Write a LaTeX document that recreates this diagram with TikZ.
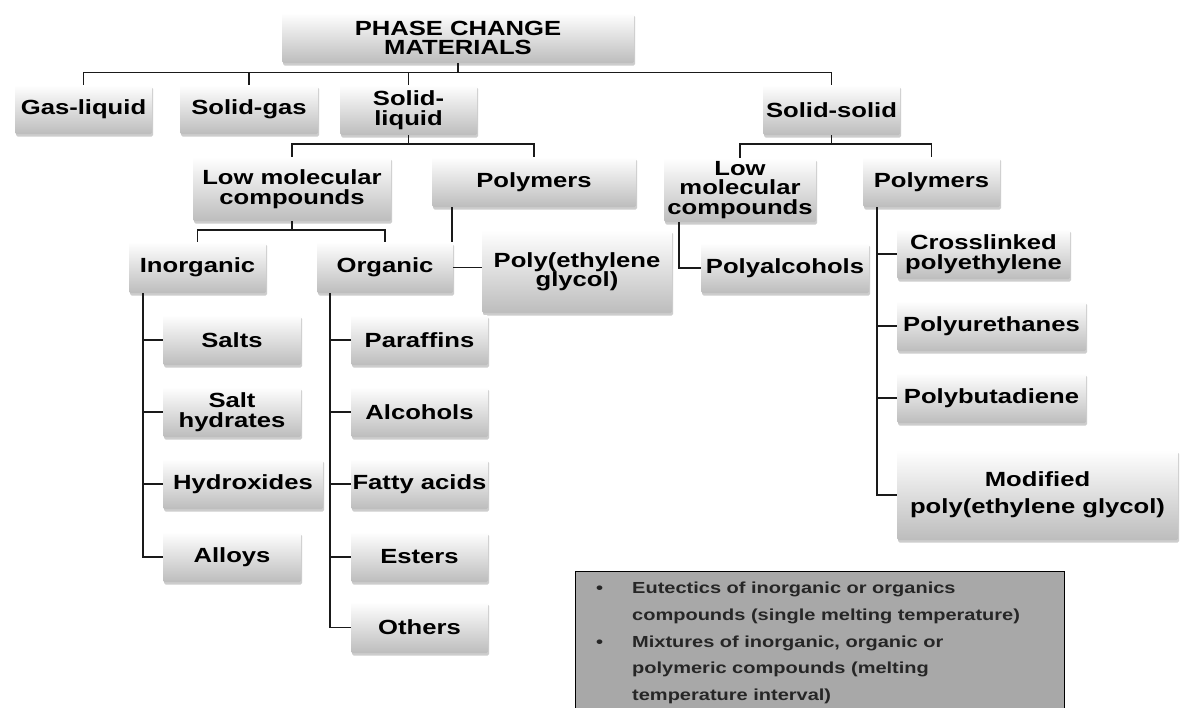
\documentclass[tikz,border=0pt]{standalone}
\usepackage{fontspec}
\setmainfont{Liberation Sans}[FakeStretch=1.25]
\usetikzlibrary{shadows}
\definecolor{linec}{HTML}{1A1A1A}
\definecolor{legfill}{HTML}{A8A8A8}
\begin{document}
\begin{tikzpicture}[x=1pt,y=-1pt,
  box/.style={rectangle, rounded corners=1.5pt, top color=white, bottom color=black!26,
    draw=none, inner sep=0pt, align=center,
    font=\fontsize{20.5}{19.5}\selectfont\bfseries, text=black,
    drop shadow={shadow xshift=1.2pt, shadow yshift=-2.5pt, opacity=0.28, fill=black!70}},
  conn/.style={draw=linec, line width=1.9pt},
  legtext/.style={font=\fontsize{16}{16}\selectfont\bfseries, text=black!85, inner sep=0pt, anchor=base west},
]
\useasboundingbox (0,0) rectangle (1181,707);
\fill[white] (0,0) rectangle (1181,707);

% level 0
\node[box, minimum width=352pt, minimum height=50pt] (pcm) at (458,38) {PHASE CHANGE\\MATERIALS};
% level 1
\node[box, minimum width=137pt, minimum height=49pt] (gl) at (83.5,109.5) {Gas-liquid};
\node[box, minimum width=138pt, minimum height=49pt] (sg) at (249,109.5) {Solid-gas};
\node[box, minimum width=137pt, minimum height=50pt] (sl) at (408.5,110) {Solid-\\liquid};
\node[box, minimum width=137pt, minimum height=50pt] (ss) at (831.5,110) {Solid-solid};
% level 2
\node[box, minimum width=198pt, minimum height=64pt] (lm) at (292,189) {Low molecular\\compounds};
\node[box, minimum width=204pt, minimum height=50pt] (poly) at (534,182) {Polymers};
\node[box, minimum width=152pt, minimum height=64pt] (lmb) at (740,190) {Low\\molecular\\compounds};
\node[box, minimum width=137pt, minimum height=50pt] (polyb) at (931.5,182) {Polymers};
% level 3
\node[box, minimum width=137pt, minimum height=51pt] (inorg) at (197.5,267.5) {Inorganic};
\node[box, minimum width=136pt, minimum height=51pt] (org) at (385,267.5) {Organic};
\node[box, minimum width=190pt, minimum height=83pt] (peg) at (577,271.5) {Poly(ethylene\\glycol)};
\node[box, minimum width=168pt, minimum height=50pt] (pa) at (785,268) {Polyalcohols};
% right column
\node[box, minimum width=173pt, minimum height=50pt] (cl) at (983.5,254) {Crosslinked\\polyethylene};
\node[box, minimum width=189pt, minimum height=50pt] (pu) at (991.5,326) {Polyurethanes};
\node[box, minimum width=189pt, minimum height=50pt] (pb) at (991.5,398) {Polybutadiene};
\node[box, minimum width=281pt, minimum height=90pt, font=\fontsize{20.5}{27}\selectfont\bfseries] (mod) at (1037.5,495) {Modified\\poly(ethylene glycol)};
% inorganic column
\node[box, minimum width=138pt, minimum height=50pt] (salts) at (232,340) {Salts};
\node[box, minimum width=138pt, minimum height=50pt] (sh) at (232,412) {Salt\\hydrates};
\node[box, minimum width=160pt, minimum height=50pt] (hyd) at (243,484) {Hydroxides};
\node[box, minimum width=138pt, minimum height=50pt] (alloys) at (232,557) {Alloys};
% organic column
\node[box, minimum width=137pt, minimum height=50pt] (par) at (419.5,340) {Paraffins};
\node[box, minimum width=137pt, minimum height=50pt] (alc) at (419.5,412) {Alcohols};
\node[box, minimum width=137pt, minimum height=50pt] (fat) at (419.5,484) {Fatty acids};
\node[box, minimum width=137pt, minimum height=50pt] (est) at (419.5,557) {Esters};
\node[box, minimum width=137pt, minimum height=51pt] (oth) at (419.5,627.5) {Others};

% buses
\coordinate (busA) at (0,72.5);
\coordinate (busB) at (0,144);
\coordinate (busC) at (0,230);

\draw[conn] (pcm.south) -- (pcm.south |- busA);
\draw[conn] (gl.north) -- (gl.north |- busA) -- (ss.north |- busA) -- (ss.north);
\draw[conn] (sg.north) -- (sg.north |- busA);
\draw[conn] (sl.north) -- (sl.north |- busA);

\draw[conn] (sl.south) -- (sl.south |- busB);
\draw[conn] (lm.north) -- (lm.north |- busB) -- (poly.north |- busB) -- (poly.north);
\draw[conn] (ss.south) -- (ss.south |- busB);
\draw[conn] (lmb.north) -- (lmb.north |- busB) -- (polyb.north |- busB) -- (polyb.north);

\draw[conn] (lm.south) -- (lm.south |- busC);
\draw[conn] (inorg.north) -- (inorg.north |- busC) -- (org.north |- busC) -- (org.north);

\draw[conn] ([xshift=-1pt]org.north east |- poly.south) -- ([xshift=-1pt]org.north east);
\draw[conn] (org.east) -- (org.east -| peg.west);

\draw[conn] ([xshift=15pt]lmb.south west) |- (pa.west);

\coordinate (tR) at ([xshift=14pt]polyb.south west);
\draw[conn] (tR) |- (mod.west);
\draw[conn] (cl.west) -- (cl.west -| tR);
\draw[conn] (pu.west) -- (pu.west -| tR);
\draw[conn] (pb.west) -- (pb.west -| tR);

\coordinate (tI) at ([xshift=14pt]inorg.south west);
\draw[conn] (tI) |- (alloys.west);
\draw[conn] (salts.west) -- (salts.west -| tI);
\draw[conn] (sh.west) -- (sh.west -| tI);
\draw[conn] (hyd.west) -- (hyd.west -| tI);

\coordinate (tO) at ([xshift=13pt]org.south west);
\draw[conn] (tO) |- (oth.west);
\draw[conn] (par.west) -- (par.west -| tO);
\draw[conn] (alc.west) -- (alc.west -| tO);
\draw[conn] (fat.west) -- (fat.west -| tO);
\draw[conn] (est.west) -- (est.west -| tO);

% legend
\begin{scope}
\clip (0,0) rectangle (1181,707);
\node[draw=black, line width=1.3pt, fill=legfill, minimum width=489pt, minimum height=160pt,
      inner sep=0pt, anchor=north west] (legend) at (575,571) {};
\node[legtext] (b1) at (596,593) {•};
\node[legtext] (l1) at (632,593) {Eutectics of inorganic or organics};
\node[legtext] (l2) at (632,620) {compounds (single melting temperature)};
\node[legtext] (b2) at (596,647) {•};
\node[legtext] (l3) at (632,647) {Mixtures of inorganic, organic or};
\node[legtext] (l4) at (632,673) {polymeric compounds (melting};
\node[legtext] (l5) at (632,700) {temperature interval)};
\end{scope}
\end{tikzpicture}
\end{document}
